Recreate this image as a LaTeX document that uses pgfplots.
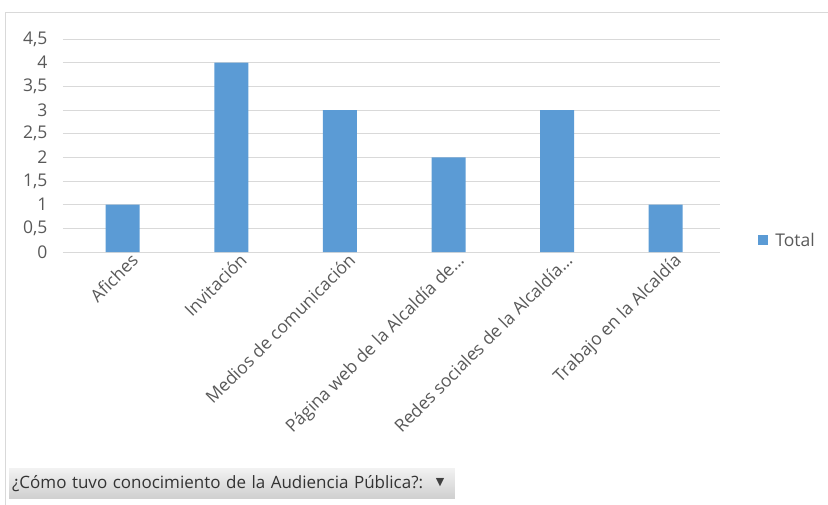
\documentclass[border=0pt]{standalone}
\usepackage{pgfplots}
\pgfplotsset{compat=1.18}
\usepackage{fontspec}
\setmainfont{Open Sans}
\newfontfamily\symfont{DejaVu Sans}
\definecolor{barblue}{HTML}{5B9BD5}
\definecolor{gridgrey}{HTML}{D9D9D9}
\definecolor{txtgrey}{HTML}{595959}
\newcommand\lblfont{\fontsize{17.5}{19}\selectfont}
\begin{document}
\begin{tikzpicture}
  \begin{axis}[
      scale only axis, clip=false,
      width=657pt, height=213pt,
      ybar, bar width=34pt,
      xmin=-0.55, xmax=5.5,
      ymin=0, ymax=4.5,
      ytick={0,0.5,...,4.5},
      xtick={0,...,5},
      xticklabels={Afiches, Invitación, Medios de comunicación,
        Página web de la Alcaldía de…, Redes sociales de la Alcaldía…,
        Trabajo en la Alcaldía},
      x tick label style={rotate=45, anchor=north east, inner sep=1pt, xshift=6pt, yshift=-4pt},
      /pgf/number format/use comma,
      /pgf/number format/assume math mode=true,
      ymajorgrids, major grid style={gridgrey, line width=0.8pt},
      axis x line*=bottom, axis y line*=left,
      x axis line style={gridgrey, line width=0.8pt, -},
      y axis line style={draw=none},
      major tick length=0pt,
      ticklabel style={font=\lblfont, text=txtgrey},
      y tick label style={anchor=east, xshift=-12pt},
      legend style={at={(1.058,0.055)}, anchor=west, draw=none, fill=none,
        font=\lblfont, text=txtgrey, inner sep=0pt},
      legend image code/.code={\fill[barblue] (0pt,-5pt) rectangle (10pt,5pt); \path (15pt,0pt);},
    ]
    \addplot[fill=barblue, draw=none] coordinates {(0,1) (1,4) (2,3) (3,2) (4,3) (5,1)};
    \addlegendentry{Total}
    % outer frame of the chart area
    \draw[gridgrey, line width=0.8pt] (rel axis cs:-0.08752,-1.1878) -- (rel axis cs:-0.08752,1.1268) -- (rel axis cs:1.16438,1.1268);
    % field button at the bottom
    \shade[top color=gray!10, bottom color=gray!38] (rel axis cs:-0.08219,-1.1596) rectangle (rel axis cs:0.59665,-1.0141);
    \node[anchor=west, inner sep=0pt, text=black!80, font=\fontsize{17}{19}\selectfont]
      at (rel axis cs:-0.07763,-1.0869) {\spaceskip=5.5pt ¿Cómo tuvo conocimiento de la Audiencia Pública?:};
    \node[anchor=center, inner sep=0pt, text=black!75, font=\symfont\fontsize{11}{12}\selectfont]
      at (rel axis cs:0.57382,-1.0845) {▼};
    \coordinate (bbll) at (rel axis cs:-0.09589,-1.18779);
    \coordinate (bbur) at (rel axis cs:1.16438,1.1831);
  \end{axis}
  \pgfresetboundingbox
  \path[use as bounding box] (bbll) rectangle (bbur);
\end{tikzpicture}
\end{document}
